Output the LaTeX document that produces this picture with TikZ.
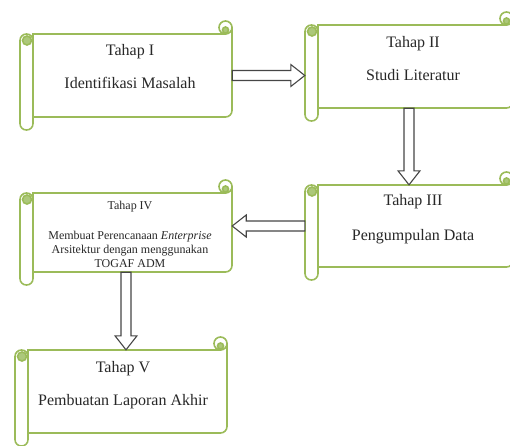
\documentclass[tikz,border=0pt]{standalone}
\usepackage{fontspec}
\setmainfont{Liberation Serif}
\usetikzlibrary{calc,fit}

\definecolor{scrollgreen}{RGB}{155,187,89}
\definecolor{curlgreen}{RGB}{172,200,122}
\definecolor{arrowgray}{RGB}{70,70,70}
\definecolor{textgray}{RGB}{40,40,40}

% horizontal scroll: name, left, top, right, bottom (pixels, y downwards)
\newcommand{\scrollbox}[5]{%
  \filldraw[scrollline] (#2+13,#3+13) -- (#4-6.5,#3+13) -- (#4-6.5,#3+6.5) -- (#4,#3+6.5)
    -- (#4,#5-19.5) .. controls (#4,#5-15.9) and (#4-2.9,#5-13) .. (#4-6.5,#5-13)
    -- (#2+13,#5-13) -- cycle;
  \filldraw[scrollline] (#4-6.5,#3+6.5) circle (6.5pt);
  \filldraw[scrollline, fill=curlgreen] (#4-6.5,#3+9) circle (3pt);
  \filldraw[scrollline, rounded corners=6.4pt] (#2,#3+13) rectangle (#2+13,#5);
  \filldraw[scrollline, fill=curlgreen] (#2+7,#3+19.5) circle (4.5pt);
  \node[fit={(#2,#3+13) (#4,#5-13)}, inner sep=0pt] (#1) {};
}

\begin{document}
\begin{tikzpicture}[x=1pt, y=-1pt,
  scrollline/.style={draw=scrollgreen, line width=1.6pt, fill=white},
  fatarrow/.style={draw=arrowgray, line width=1.1pt, fill=white, line join=miter},
  stagetext/.style={align=center, text=textgray, font=\fontsize{16}{33}\selectfont},
  smalltext/.style={align=center, text=textgray, font=\fontsize{12}{14}\selectfont}]

\useasboundingbox (0,0) rectangle (510,445);

% the five stages
\scrollbox{tahap1}{20}{21}{232}{130}
\scrollbox{tahap2}{305}{12}{513}{121}
\scrollbox{tahap3}{305}{172}{513}{280}
\scrollbox{tahap4}{20}{180}{232}{285}
\scrollbox{tahap5}{15}{337}{227}{446}

\node[stagetext] (label1) at (130,66.5) {Tahap I\\Identifikasi Masalah};
\node[stagetext] (label2) at (413,58.5) {Tahap II\\Studi Literatur};
\node[stagetext] (label3) at (413,219.5) {Tahap III\\[2pt]Pengumpulan Data};
\node[smalltext] (label4) at (130,234) {Tahap IV\\[16pt]Membuat Perencanaan \textit{Enterprise}\\Arsitektur dengan menggunakan\\TOGAF ADM};
\node[stagetext] (label5) at (123,385.5) {Tahap V\\Pembuatan Laporan Akhir};

% I -> II
\coordinate (a1s) at (tahap1.east);
\coordinate (a1e) at (tahap1.east -| tahap2.west);
\draw[fatarrow] ($(a1s)+(0,-5)$) -- ($(a1e)+(-14,-5)$) -- ($(a1e)+(-14,-11)$) -- (a1e)
  -- ($(a1e)+(-14,11)$) -- ($(a1e)+(-14,5)$) -- ($(a1s)+(0,5)$) -- cycle;

% II -> III
\coordinate (a2s) at (tahap2.south);
\coordinate (a2e) at (tahap2.south |- tahap3.north);
\draw[fatarrow] ($(a2s)+(-5,0)$) -- ($(a2e)+(-5,-14)$) -- ($(a2e)+(-11,-14)$) -- (a2e)
  -- ($(a2e)+(11,-14)$) -- ($(a2e)+(5,-14)$) -- ($(a2s)+(5,0)$) -- cycle;

% III -> IV
\coordinate (a3s) at (tahap3.west);
\coordinate (a3e) at (tahap3.west -| tahap4.east);
\draw[fatarrow] ($(a3s)+(0,-5)$) -- ($(a3e)+(14,-5)$) -- ($(a3e)+(14,-11)$) -- (a3e)
  -- ($(a3e)+(14,11)$) -- ($(a3e)+(14,5)$) -- ($(a3s)+(0,5)$) -- cycle;

% IV -> V
\coordinate (a4s) at (tahap4.south);
\coordinate (a4e) at (tahap4.south |- tahap5.north);
\draw[fatarrow] ($(a4s)+(-5,0)$) -- ($(a4e)+(-5,-14)$) -- ($(a4e)+(-11,-14)$) -- (a4e)
  -- ($(a4e)+(11,-14)$) -- ($(a4e)+(5,-14)$) -- ($(a4s)+(5,0)$) -- cycle;

\end{tikzpicture}
\end{document}
